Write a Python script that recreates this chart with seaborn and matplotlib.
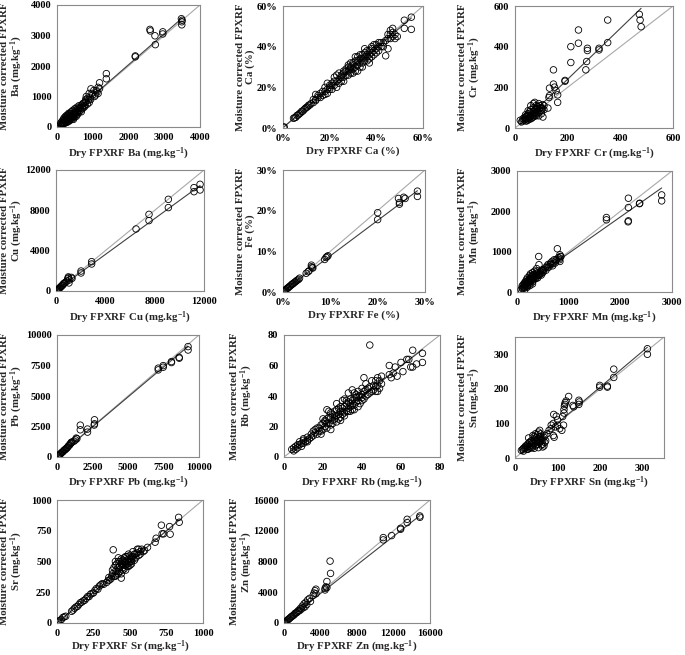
import matplotlib
matplotlib.use("Agg")
import matplotlib.pyplot as plt
import matplotlib.ticker as mticker
import matplotlib.transforms as mtrans
import seaborn as sns
import pandas as pd

# values: (dry, moisture corrected)
ba_pts = [(100, 80), (120, 150), (140, 100), (150, 200), (160, 120), (180, 250), (200, 150), (200, 300),
          (220, 180), (240, 350), (250, 230), (260, 150), (280, 320), (300, 250), (300, 400), (320, 200),
          (340, 380), (350, 300), (360, 450), (380, 280), (400, 350), (400, 500), (420, 300), (440, 420),
          (450, 550), (460, 250), (480, 400), (500, 350), (500, 600), (520, 450), (550, 500), (560, 650),
          (580, 420), (600, 550), (620, 700), (650, 600), (680, 500), (700, 650), (720, 760), (750, 700),
          (780, 800), (800, 900), (820, 1000), (850, 750), (880, 880), (900, 1100), (920, 950), (950, 1250),
          (1000, 1050), (1050, 1000), (1100, 1200), (1150, 1300), (1150, 1100), (1190, 1450), (1190, 1260),
          (1380, 1750), (1380, 1580), (2190, 2330), (2190, 2300), (2600, 3200), (2610, 3150), (2740, 2990),
          (2750, 2700), (2960, 3120), (2960, 3050), (3480, 3550), (3490, 3450), (3490, 3350), (3500, 3500),
          (110, 130), (130, 60), (150, 90), (170, 160), (180, 100), (190, 210), (210, 120), (230, 260),
          (250, 170), (270, 220), (270, 380), (290, 160), (310, 300), (330, 250), (330, 450), (350, 200),
          (370, 330), (390, 430), (410, 250), (430, 520), (450, 350), (470, 300), (490, 480), (510, 400),
          (530, 560), (540, 350), (570, 480), (590, 600), (610, 480), (640, 650), (660, 550), (690, 720),
          (710, 600), (740, 780), (760, 650), (790, 700), (810, 850), (860, 950), (900, 800), (940, 900),
          (980, 1100), (1030, 1200), (1080, 1050), (1120, 1150)]
ca_pts = [(0.3, 0.3), (0.5, 0.5), (4.5, 4.8), (5, 5), (5.5, 5.3), (6, 6.2), (6.5, 6.4), (7, 7), (7.5, 7.4),
          (8, 8.2), (8.5, 8.3), (9, 9), (9.5, 9.6), (10, 10.1), (10.5, 10.4), (11, 11.2), (11.5, 11.3), (12, 12),
          (13, 14), (14, 13.5), (14, 16.5), (15, 15), (16, 17), (17, 16), (18, 18), (18, 20), (19, 22), (19, 17),
          (20, 19), (20, 21), (21, 22), (22, 21), (22, 25), (23, 23), (24, 24), (24, 27), (25, 26), (25, 23),
          (26, 28), (26, 25), (27, 29), (27, 26), (28, 28), (28, 31), (29, 30), (29, 27), (30, 32), (30, 29),
          (31, 33), (31, 28), (32, 31), (32, 35), (33, 34), (33, 30), (34, 36), (34, 32), (35, 37), (35, 33),
          (36, 35), (36, 38), (37, 36), (37, 34), (38, 40), (38, 37), (39, 38), (40, 41), (40, 39), (41, 40),
          (42, 42), (43, 40), (44, 35.5), (45, 39), (45, 44), (46, 46), (46, 48), (47, 47), (47, 49), (48, 46),
          (48, 44), (49, 45), (52, 53), (52, 49), (55, 54.5), (55, 48.5),
          (21, 19), (22, 23), (23, 26), (23, 20), (24, 22), (25, 25), (26, 23), (26, 27), (27, 28), (28, 26),
          (28, 30), (29, 29), (29, 32), (30, 27), (30, 31), (31, 30), (31, 35), (32, 33), (32, 28), (33, 32),
          (33, 36), (34, 34), (34, 30), (35, 35), (35, 39), (36, 33), (36, 36), (37, 38), (37, 32), (38, 35),
          (38, 39), (39, 36), (39, 41), (40, 37), (41, 42), (41, 38), (42, 40), (43, 42), (44, 43), (45, 46),
          (46, 44), (47, 45), (13, 12.5), (14, 14), (15, 16), (16, 15), (17, 18), (18, 16.5), (19, 19),
          (20, 20), (21, 21)]
cr_pts = [(20, 38), (25, 30), (30, 35), (35, 40), (35, 50), (40, 35), (40, 55), (45, 45), (45, 60), (50, 50),
          (50, 40), (50, 70), (55, 55), (55, 80), (60, 45), (60, 60), (60, 90), (65, 70), (65, 50), (70, 65),
          (70, 100), (70, 80), (75, 126), (75, 60), (75, 75), (80, 90), (80, 70), (85, 80), (85, 105), (90, 95),
          (90, 75), (95, 85), (95, 110), (100, 100), (100, 70), (106, 54), (105, 115), (110, 90), (125, 98),
          (129, 150), (131, 159), (131, 196), (146, 216), (146, 286), (150, 201), (156, 183), (162, 163),
          (162, 126), (190, 234), (190, 230), (212, 400), (212, 322), (241, 482), (241, 417), (269, 286),
          (272, 327), (275, 392), (275, 381), (319, 392), (319, 384), (352, 531), (352, 420), (472, 559),
          (475, 531), (479, 498),
          (30, 45), (40, 45), (45, 35), (50, 60), (55, 45), (60, 75), (65, 60), (70, 55), (75, 90), (80, 60),
          (85, 95), (90, 60), (95, 100), (100, 85), (60, 110), (50, 85), (40, 65), (70, 120), (80, 110),
          (90, 120), (105, 95), (110, 110)]
cu_pts = [(50, 40), (100, 100), (150, 160), (200, 200), (250, 260), (300, 300), (350, 380), (400, 420),
          (450, 500), (500, 550), (550, 600), (600, 700), (650, 750), (700, 800), (800, 900), (900, 1000),
          (950, 1200), (1000, 1400), (1000, 1300), (1050, 800), (1100, 1100), (1250, 1350), (1300, 1250),
          (2030, 1980), (2030, 1790), (2890, 2910), (2890, 2680), (6490, 6150), (7540, 7600), (7540, 6980),
          (9110, 9090), (9110, 8270), (11190, 10250), (11190, 9850), (11680, 10580), (11680, 10020)]
fe_pts = [(0.2, 0.2), (0.3, 0.35), (0.5, 0.5), (0.6, 0.55), (0.8, 0.8), (1, 1), (1.1, 1.05), (1.3, 1.3),
          (1.5, 1.45), (1.7, 1.7), (1.9, 1.85), (2, 2), (2.2, 2.1), (2.4, 2.35), (2.6, 2.5), (2.8, 2.7),
          (3, 2.9), (3.3, 3.1), (3.5, 3.4), (4.9, 4.6), (5.3, 5), (5.5, 5.2), (6, 6.2), (6, 6.6), (6.3, 5.9),
          (6.2, 6.0), (8.8, 8.0), (9.1, 8.5), (9.5, 8.9), (9.3, 8.7), (20.0, 19.5), (20.0, 17.8), (24.4, 23.0),
          (24.6, 22.0), (24.6, 21.6), (25.5, 23.3), (25.8, 23.0), (28.4, 24.8), (28.4, 23.5)]
mn_pts = [(80, 60), (100, 100), (100, 150), (120, 120), (120, 180), (140, 150), (140, 220), (150, 100),
          (160, 180), (160, 250), (180, 200), (180, 300), (200, 150), (200, 250), (200, 350), (220, 220),
          (220, 300), (240, 280), (240, 400), (250, 200), (260, 320), (260, 450), (280, 300), (280, 380),
          (300, 250), (300, 350), (300, 480), (320, 300), (320, 420), (340, 380), (340, 520), (360, 330),
          (360, 450), (380, 400), (380, 580), (400, 350), (400, 480), (420, 880), (425, 676), (430, 420),
          (450, 500), (460, 450), (480, 530), (500, 480), (520, 560), (550, 600), (580, 640), (600, 680),
          (620, 620), (650, 720), (680, 760), (700, 700), (720, 800), (750, 770), (781, 1072), (800, 850),
          (831, 923), (844, 882), (831, 841), (831, 758), (1731, 1847), (1731, 1789), (2156, 2325),
          (2156, 2094), (2156, 1764), (2150, 1740), (2375, 2201), (2370, 2190), (2800, 2407), (2800, 2259),
          (110, 80), (130, 130), (150, 200), (170, 140), (190, 260), (210, 180), (230, 250), (250, 330),
          (270, 260), (290, 420), (310, 380), (330, 330), (350, 420), (370, 350), (390, 520), (410, 420),
          (440, 460), (470, 420), (490, 550), (510, 520), (560, 540), (590, 600), (640, 680), (670, 700),
          (690, 650), (740, 720), (760, 800), (850, 880), (820, 800), (150, 50), (200, 120), (250, 160),
          (300, 200)]
pb_pts = [(50, 60), (100, 100), (150, 180), (200, 220), (250, 250), (300, 330), (350, 380), (400, 420),
          (450, 480), (500, 550), (550, 600), (600, 620), (650, 700), (700, 750), (750, 800), (800, 900),
          (850, 950), (900, 1000), (950, 1100), (1000, 1150), (1000, 1200), (1100, 1250), (1200, 1300),
          (1300, 1400), (1350, 1550), (1400, 1500), (1640, 2610), (1640, 2230), (2150, 2290), (2150, 2040),
          (2640, 3050), (2640, 2720), (2620, 2620), (7130, 7280), (7130, 7140), (7480, 7490), (7480, 7360),
          (8060, 7820), (8060, 7740), (8600, 8170), (8610, 8100), (9230, 9050), (9230, 8770)]
rb_pts = [(4, 5), (5, 4), (5, 6), (6, 7), (6, 5), (7, 6), (8, 8), (8, 10), (9, 7), (10, 9), (10, 11), (11, 10),
          (12, 13), (12, 11), (13, 12), (14, 15), (14, 13), (15, 14), (16, 18), (16, 16), (17, 15), (18, 19),
          (18, 17), (19, 21), (20, 18), (20, 22), (21, 24), (21, 20), (22, 31), (22, 25), (22, 19), (23, 30),
          (23, 22), (24, 26), (24, 21), (25, 28), (25, 24), (26, 30), (26, 25), (27, 27), (27, 23), (28, 32),
          (28, 28), (29, 30), (29, 26), (30, 37), (30, 32), (30, 28), (31, 33), (31, 29), (32, 35), (32, 30),
          (33, 42), (33, 36), (33, 32), (34, 38), (34, 33), (35, 44), (35, 37), (35, 31), (36, 39), (36, 34),
          (37, 41), (37, 36), (38, 43), (38, 37), (38, 33), (39, 40), (40, 45), (40, 41), (40, 37), (41, 52),
          (41, 43), (42, 48), (42, 40), (43, 45), (44, 73.4), (44, 42), (45, 50), (46, 47), (47, 50), (47, 43),
          (48, 52), (48, 47), (49, 45), (50, 53), (50, 48), (54, 60), (54, 54), (55, 52), (56, 55), (57, 59),
          (58, 53), (60, 62), (61, 56), (64, 64), (63, 64), (65, 59), (66, 59), (66, 70), (68, 61), (71, 68),
          (71, 62),
          (15, 17), (17, 19), (19, 17), (20, 25), (21, 23), (22, 22), (23, 26), (24, 29), (25, 22), (26, 27),
          (27, 31), (28, 25), (29, 33), (30, 30), (31, 27), (32, 37), (33, 30), (34, 35), (35, 34), (36, 42),
          (37, 39), (38, 40), (39, 35), (40, 39), (41, 38), (42, 44), (43, 41), (44, 46), (45, 43), (46, 44),
          (47, 46), (48, 43), (49, 50), (27, 35), (29, 24), (31, 38), (34, 30), (36, 31), (24, 18), (19, 15),
          (10, 12), (12, 10), (7, 8), (9, 9)]
sn_pts = [(15, 22), (18, 25), (20, 20), (22, 30), (25, 28), (28, 35), (30, 25), (30, 40), (32, 58), (35, 32),
          (35, 45), (38, 38), (40, 50), (40, 30), (42, 65), (45, 42), (45, 55), (48, 35), (48, 70), (50, 48),
          (50, 60), (52, 40), (55, 75), (55, 55), (58, 45), (58, 80), (60, 62), (62, 38), (65, 50), (68, 35),
          (70, 65), (75, 70), (80, 80), (85, 95), (85, 85), (90, 100), (90, 65), (91, 126), (92, 60), (95, 90),
          (97, 121), (100, 95), (100, 110), (105, 85), (110, 80), (114, 95), (112, 120), (115, 130), (115, 140),
          (116, 150), (117, 155), (118, 160), (120, 165), (126, 178), (136, 152), (138, 148), (150, 167),
          (151, 162), (150, 155), (199, 210), (199, 205), (217, 208), (217, 205), (232, 257), (232, 233),
          (311, 316), (311, 300),
          (20, 28), (25, 35), (28, 25), (30, 33), (33, 45), (35, 28), (38, 50), (40, 42), (42, 35), (45, 62),
          (47, 50), (50, 38), (52, 52), (53, 68), (55, 45), (57, 60), (60, 50), (60, 70), (62, 55), (65, 40),
          (68, 60), (70, 45), (72, 50), (45, 28), (55, 30), (65, 32)]
sr_pts = [(5, 5), (10, 15), (20, 20), (30, 28), (40, 45), (50, 50), (60, 55), (100, 95), (110, 105),
          (120, 120), (130, 130), (140, 135), (150, 150), (160, 165), (170, 170), (180, 180), (190, 185),
          (200, 200), (210, 215), (220, 215), (230, 235), (240, 240), (250, 245), (260, 265), (270, 280),
          (280, 275), (290, 300), (300, 310), (310, 320), (320, 315), (340, 330), (350, 345), (355, 370),
          (370, 360), (380, 400), (385, 595), (390, 450), (400, 380), (400, 470), (410, 420), (420, 500),
          (420, 400), (430, 460), (440, 365), (440, 520), (450, 430), (450, 480), (460, 500), (460, 440),
          (470, 540), (470, 470), (480, 510), (480, 460), (490, 490), (490, 560), (500, 520), (500, 470),
          (510, 540), (510, 500), (520, 580), (520, 520), (530, 510), (540, 560), (550, 600), (560, 550),
          (570, 580), (580, 600), (600, 590), (620, 615), (672, 657), (679, 689), (715, 795), (720, 725),
          (730, 725), (771, 784), (775, 722), (833, 859), (837, 819),
          (380, 430), (390, 380), (400, 420), (410, 480), (410, 390), (420, 450), (430, 500), (430, 420),
          (440, 480), (450, 510), (450, 450), (460, 470), (460, 530), (470, 500), (480, 480), (480, 540),
          (490, 520), (490, 460), (500, 500), (500, 550), (510, 520), (510, 480), (520, 540), (530, 560),
          (540, 530), (550, 570), (560, 600), (570, 560), (590, 580), (400, 500), (420, 530), (440, 400),
          (470, 430), (360, 350), (375, 380)]
zn_pts = [(50, 50), (100, 100), (200, 180), (300, 300), (400, 400), (500, 480), (600, 600), (700, 700),
          (800, 820), (900, 880), (1000, 1000), (1100, 1050), (1200, 1250), (1300, 1300), (1400, 1350),
          (1500, 1500), (1600, 1650), (1700, 1600), (1800, 1900), (1900, 1800), (2000, 2200), (2100, 2000),
          (2200, 2500), (2300, 2100), (2400, 2700), (2500, 2400), (2600, 3000), (2800, 3200), (2900, 2800),
          (3200, 3600), (3300, 3900), (3400, 4200), (3500, 4400), (3500, 3800), (4500, 4300), (4500, 4500),
          (4600, 4700), (4700, 4600), (4700, 5400), (5100, 6450), (5050, 8050), (10880, 11110), (10880, 10810),
          (11790, 11370), (12780, 12320), (12780, 12190), (13500, 13490), (13500, 13060), (14890, 13920),
          (14890, 13750)]

elements = ["Ba", "Ca", "Cr", "Cu", "Fe", "Mn", "Pb", "Rb", "Sn", "Sr", "Zn"]
units = ["mg.kg$^{-1}$", "%", "mg.kg$^{-1}$", "mg.kg$^{-1}$", "%", "mg.kg$^{-1}$",
         "mg.kg$^{-1}$", "mg.kg$^{-1}$", "mg.kg$^{-1}$", "mg.kg$^{-1}$", "mg.kg$^{-1}$"]
axis_max = [4000, 60, 600, 12000, 30, 3000, 10000, 80, 350, 1000, 16000]
tick_step = [1000, 20, 200, 4000, 10, 1000, 2500, 20, 100, 250, 4000]
# regression line
slopes = [1.02, 0.98, 1.25, 0.89, 0.87, 0.90, 0.98, 0.99, 1.04, 1.00, 0.93]
intercepts = [0, 0.2, -10, 60, 0.2, 60, 20, 0.2, -3, 0, 120]
all_pts = [ba_pts, ca_pts, cr_pts, cu_pts, fe_pts, mn_pts, pb_pts, rb_pts, sn_pts, sr_pts, zn_pts]

# axes boxes in pixels: left, right, top, bottom
boxes = [(57, 200, 5, 127), (283, 423, 6, 128), (515, 673, 6, 128),
         (56, 204, 170, 291), (283, 425, 170, 292), (517, 672, 171, 292),
         (57, 199, 335, 457), (284, 440, 335, 457), (515, 664, 337, 458),
         (57, 203, 500, 623), (284, 430, 500, 623)]
# right edge of the y label per column, top of the x label per row (pixels)
ylab_right = [25, 255, 483]
xlab_top = [146, 310, 475, 639]

sns.set_style("white")
plt.rcParams['font.family'] = ['Liberation Serif', 'DejaVu Serif']
plt.rcParams['font.weight'] = 'bold'
plt.rcParams['mathtext.fontset'] = 'custom'
plt.rcParams['mathtext.rm'] = 'Liberation Serif:bold'
plt.rcParams['mathtext.bf'] = 'Liberation Serif:bold'
plt.rcParams['mathtext.default'] = 'bf'

W, H = 685, 655
fig = plt.figure(figsize=(W / 100, H / 100), dpi=100)

for i, el in enumerate(elements):
    l, r, t, b = boxes[i]
    ax = fig.add_axes([l / W, 1 - b / H, (r - l) / W, (b - t) / H])
    df = pd.DataFrame(all_pts[i], columns=["dry", "wet"])
    m = axis_max[i]

    # 1:1 line
    ax.plot([0, m], [0, m], color="#a8a8a8", lw=0.8, zorder=1)
    # fitted line over the data range
    xs = pd.Series([df["dry"].min(), df["dry"].max()])
    ax.plot(xs, slopes[i] * xs + intercepts[i], color="#404040", lw=0.8, zorder=2)

    sns.scatterplot(data=df, x="dry", y="wet", ax=ax, marker="o", s=22,
                    facecolor="none", edgecolor="black", linewidth=0.6, zorder=3)

    ax.set_xlim(0, m)
    ax.set_ylim(0, m)
    ticks = list(range(0, int(m) + 1, tick_step[i]))
    ax.set_xticks(ticks)
    ax.set_yticks(ticks)
    if units[i] == "%":
        fmt = mticker.FuncFormatter(lambda v, p: f"{v:.0f}%")
        ax.xaxis.set_major_formatter(fmt)
        ax.yaxis.set_major_formatter(fmt)
        unit_txt = "(%)"
    else:
        unit_txt = f"({units[i]})"
    ax.tick_params(labelsize=7.5, length=2, width=0.6, pad=2, colors="black")
    for lab in ax.get_xticklabels() + ax.get_yticklabels():
        lab.set_fontweight("bold")
    for sp in ax.spines.values():
        sp.set_color("#8a8a8a")
        sp.set_linewidth(0.8)
    ax.set_xlabel(f"Dry FPXRF {el} {unit_txt}", fontsize=7.8, fontweight="bold")
    ax.set_ylabel(f"Moisture corrected FPXRF\n{el} {unit_txt}", fontsize=7.8,
                  fontweight="bold", linespacing=1.0)

    row, col = divmod(i, 3)
    ax.yaxis.set_label_coords(ylab_right[col] / W, 0.5,
                              transform=mtrans.blended_transform_factory(fig.transFigure, ax.transAxes))
    ax.xaxis.set_label_coords(0.5, 1 - xlab_top[row] / H,
                              transform=mtrans.blended_transform_factory(ax.transAxes, fig.transFigure))

fig.savefig("out.png", dpi=100)
